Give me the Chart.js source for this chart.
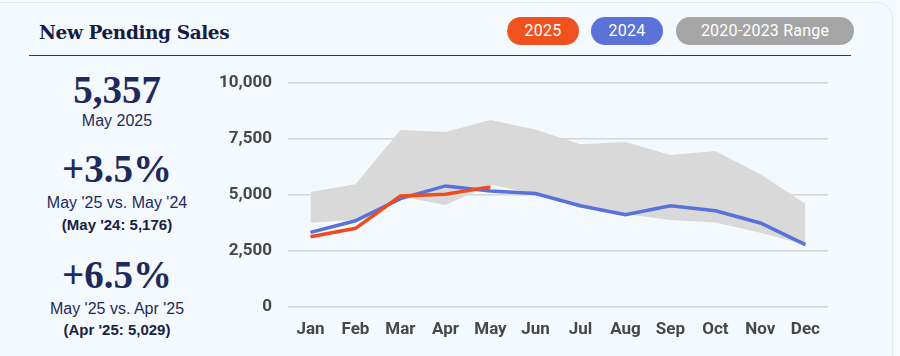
<!DOCTYPE html>
<html>
<head>
<meta charset="utf-8">
<script src="https://cdn.jsdelivr.net/npm/chart.js@4.4.1/dist/chart.umd.min.js"></script>
<style>
  html, body { margin: 0; padding: 0; }
  body { width: 900px; height: 356px; background: #f7fafc; position: relative; overflow: hidden; font-family: "Liberation Sans", Arial, sans-serif; }
  #card { position: absolute; left: -20px; top: 2px; width: 913px; height: 380px; background: #f3f9fd; border: 1px solid #e0eaf2; border-radius: 16px; box-sizing: border-box; }
  .abs { position: absolute; line-height: 1; white-space: nowrap; }
  #title { left: 39px; top: 24.3px; font-family: "DejaVu Serif", serif; font-weight: bold; font-size: 18.5px; letter-spacing: -0.4px; color: #151b44; }
  #rule { position: absolute; left: 29px; top: 55px; width: 822px; height: 0; border-top: 1.5px solid #2d3468; }
  .pill { position: absolute; top: 17px; height: 28px; border-radius: 14px; color: #fff; font-family: Roboto, sans-serif; font-size: 16px; line-height: 28px; text-align: center; letter-spacing: 0.2px; }
  .ctr { left: 17px; width: 200px; text-align: center; color: #1f2a5c; }
  .big { font-family: "Liberation Serif", serif; font-weight: bold; font-size: 39px; }
  .sub { font-size: 16px; }
  .note { font-size: 15px; font-weight: bold; color: #1a1f3f; }
  #chartBox { position: absolute; left: 205px; top: 56.5px; width: 628px; height: 293.5px; }
</style>
</head>
<body>
<div id="card"></div>
<div id="title" class="abs">New Pending Sales</div>
<div id="rule"></div>
<div class="pill" style="left:507px;width:72px;background:#f0521f;">2025</div>
<div class="pill" style="left:591px;width:72px;background:#5b72d8;">2024</div>
<div class="pill" style="left:676px;width:178px;background:#a5a5a5;">2020-2023 Range</div>

<div class="abs ctr big" style="top:70px;">5,357</div>
<div class="abs ctr sub" style="top:112.5px;">May 2025</div>
<div class="abs ctr big" style="top:149px;">+3.5%</div>
<div class="abs ctr sub" style="top:194.5px;">May '25 vs. May '24</div>
<div class="abs ctr note" style="top:217px;">(May '24: 5,176)</div>
<div class="abs ctr big" style="top:255.3px;">+6.5%</div>
<div class="abs ctr sub" style="top:301px;">May '25 vs. Apr '25</div>
<div class="abs ctr note" style="top:321.5px;">(Apr '25: 5,029)</div>

<div id="chartBox"><canvas id="c"></canvas></div>
<script>
const months = ["Jan","Feb","Mar","Apr","May","Jun","Jul","Aug","Sep","Oct","Nov","Dec"];
const sales2025 = [3125, 3500, 4950, 5029, 5357];
const sales2024 = [3320, 3840, 4830, 5400, 5176, 5060, 4510, 4110, 4510, 4290, 3740, 2770];
const rangeHigh = [5130, 5480, 7900, 7810, 8350, 7930, 7270, 7370, 6790, 6960, 5920, 4600];
const rangeLow  = [3750, 3880, 4930, 4550, 5450, 5050, 4450, 4140, 3870, 3760, 3300, 2760];
const yTicks = [0, 2500, 5000, 7500, 10000];

new Chart(document.getElementById('c'), {
  type: 'line',
  data: {
    labels: months,
    datasets: [
      { label: '2025', data: sales2025, borderColor: '#f04b1f', borderWidth: 3.5, pointRadius: 0, fill: false, tension: 0 },
      { label: '2024', data: sales2024, borderColor: '#5871db', borderWidth: 3.5, pointRadius: 0, fill: false, tension: 0 },
      { label: 'High', data: rangeHigh, borderColor: 'rgba(0,0,0,0)', borderWidth: 0, pointRadius: 0, backgroundColor: '#d9d9d9', fill: 3, tension: 0 },
      { label: 'Low', data: rangeLow, borderColor: 'rgba(0,0,0,0)', borderWidth: 0, pointRadius: 0, fill: false, tension: 0 }
    ]
  },
  options: {
    responsive: true,
    maintainAspectRatio: false,
    animation: false,
    layout: { padding: { top: 7, right: 0, bottom: 0, left: 0 } },
    plugins: { legend: { display: false }, tooltip: { enabled: false } },
    scales: {
      x: {
        offset: true,
        grid: { display: false, drawTicks: false },
        border: { display: false },
        ticks: { padding: 13, color: '#474747', font: { family: 'Roboto', weight: 'bold', size: 17 } },
        afterFit: (s) => { s.height = 44; }
      },
      y: {
        min: 0, max: 10000,
        afterBuildTicks: (s) => { s.ticks = yTicks.map(v => ({ value: v })); },
        grid: { color: '#d6d6d6', lineWidth: 1.5, drawTicks: false },
        border: { display: false },
        ticks: { padding: 16, color: '#474747', font: { family: 'Roboto', weight: 'bold', size: 17 },
          callback: (v) => v.toLocaleString('en-US') },
        afterFit: (s) => { s.width = 83; }
      }
    }
  }
});
</script>
</body>
</html>
